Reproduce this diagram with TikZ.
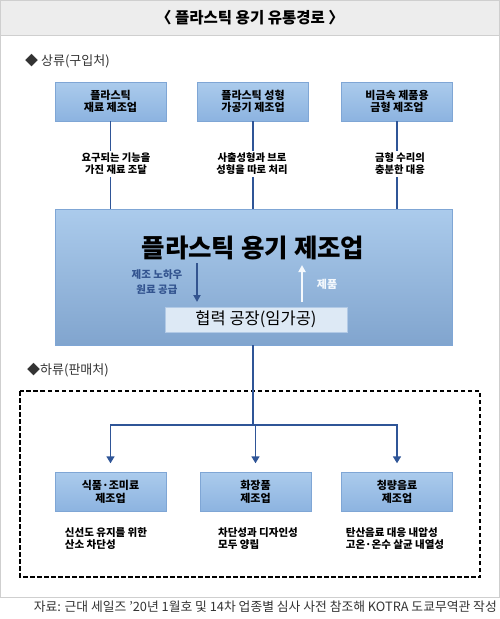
\documentclass[tikz,border=0pt]{standalone}
\usepackage{fontspec}
\setmainfont{Noto Sans CJK KR}
\usetikzlibrary{positioning,arrows.meta,calc}

\definecolor{lineblue}{HTML}{2F5597}
\definecolor{boxtop}{HTML}{ABCBEC}
\definecolor{boxbot}{HTML}{8CB3E0}
\definecolor{boxedge}{HTML}{7FA6D5}
\definecolor{coopfill}{HTML}{DDE9F5}
\definecolor{knowhow}{HTML}{33548F}
\definecolor{framegray}{HTML}{CFCFCF}
\definecolor{barfill}{HTML}{EDEDED}
\definecolor{txtgray}{HTML}{333333}

\begin{document}
\begin{tikzpicture}[
  x=1pt, y=-1pt,
  firm/.style    = {draw=boxedge, top color=boxtop, bottom color=boxbot,
                    align=center, minimum width=111pt, minimum height=39pt,
                    inner sep=2pt, text=black,
                    font=\fontsize{11}{12.5}\selectfont\bfseries},
  need/.style    = {align=center, inner sep=2pt, text=black,
                    font=\fontsize{10.3}{12}\selectfont\bfseries},
  spec/.style    = {align=left, inner sep=1pt, text=black,
                    font=\fontsize{10.5}{12}\selectfont\bfseries},
  sect/.style    = {anchor=west, inner sep=0pt, text=txtgray,
                    font=\fontsize{13}{15}\selectfont},
  ln/.style      = {draw=lineblue, line width=1.6pt},
  ar/.style      = {ln, -{Triangle[length=7pt, width=8pt]}},
  flow/.style    = {line width=2pt, -{Triangle[length=7pt, width=7pt]}}
]
\useasboundingbox (0,0) rectangle (500,619);

% ---- frame and title bar --------------------------------------------------
\draw[framegray, line width=1pt] (0.5,0.5) rectangle (499.5,597);
\fill[barfill] (1,1) rectangle (499,35);
\draw[framegray, line width=1pt] (1,35) -- (499,35);
\node[font=\fontsize{15.5}{17}\selectfont\bfseries, text=black] (title) at (250,18)
  {〈 플라스틱 용기 유통경로 〉};

% ---- upstream -------------------------------------------------------------
\node[sect] (up) at (25,61) {◆ 상류(구입처)};

\node[firm] (matl) at (110.5,101.5) {플라스틱\\재료 제조업};
\node[firm] (mach) at (253,101.5)   {플라스틱 성형\\가공기 제조업};
\node[firm] (mold) at (397,101.5)   {비금속 제품용\\금형 제조업};

\node[need] (needa) at (116,164) {요구되는 기능을\\가진 재료 조달};
\node[need] (needb) at (252,164) {사출성형과 브로\\성형을 따로 처리};
\node[need] (needc) at (400,164) {금형 수리의\\충분한 대응};

% ---- plastic container maker ----------------------------------------------
\node[draw=boxedge, top color=boxtop, bottom color=boxbot!92!black,
      minimum width=397pt, minimum height=136pt] (maker) at (253.5,277) {};
\node[font=\fontsize{25.5}{27}\selectfont\bfseries, text=black] (makername)
  at (253,248) {플라스틱 용기 제조업};

\node[draw=boxedge!60, fill=coopfill, minimum width=182pt, minimum height=25pt,
      font=\fontsize{16.5}{18}\selectfont, text=black] (coop) at (256,319.5)
  {협력 공장(임가공)};

\coordinate (dnfrom) at (197,263);
\coordinate (upfrom) at (302,302);
\draw[flow, knowhow] (dnfrom) -- (dnfrom |- 0,302);
\draw[flow, white!88!boxtop] (upfrom) -- (upfrom |- 0,265);
\node[align=center, text=knowhow, font=\fontsize{10.5}{14.5}\selectfont\bfseries]
  (supply) at (157,282) {제조 노하우\\원료 공급};
\node[text=white!88!boxtop, font=\fontsize{11}{13}\selectfont\bfseries]
  (product) at (327,284) {제품};

\foreach \f/\n in {matl/needa, mach/needb, mold/needc} {
  \draw[ln] (\f.south) -- (\f.south |- \n.north);
  \draw[ln] (\f.south |- \n.south) -- (\f.south |- maker.north);
}

% ---- downstream -----------------------------------------------------------
\node[sect] (down) at (27,370) {◆하류(판매처)};
\draw[black, line width=1.8pt, dash pattern=on 4.5pt off 2.5pt] (20,391) rectangle (480,577);

\node[firm] (food)  at (110.5,492) {식품·조미료\\제조업};
\node[firm] (cosm)  at (255.5,492) {화장품\\제조업};
\node[firm] (drink) at (397,492)   {청량음료\\제조업};

\coordinate (split) at (253,425);
\draw[ln] (maker.south -| split) -- (split);
\draw[ar, shorten >=9pt] (split) -| (food.north);
\draw[ar, shorten >=9pt] (split) -| (cosm.north);
\draw[ar, shorten >=9pt] (split) -| (drink.north);

\node[spec] (speca) at (106,539) {신선도 유지를 위한\\산소 차단성};
\node[spec] (specb) at (258,539) {차단성과 디자인성\\모두 양립};
\node[spec] (specc) at (395,539) {탄산음료 대응 내압성\\고온·온수 살균 내열성};

% ---- source ---------------------------------------------------------------
\node[anchor=east, inner sep=0pt, text=txtgray, font=\fontsize{12.8}{14}\selectfont]
  (src) at (497,607)
  {자료: 근대 세일즈 '20년 1월호 및 14차 업종별 심사 사전 참조해 KOTRA 도쿄무역관 작성};

\end{tikzpicture}
\end{document}
